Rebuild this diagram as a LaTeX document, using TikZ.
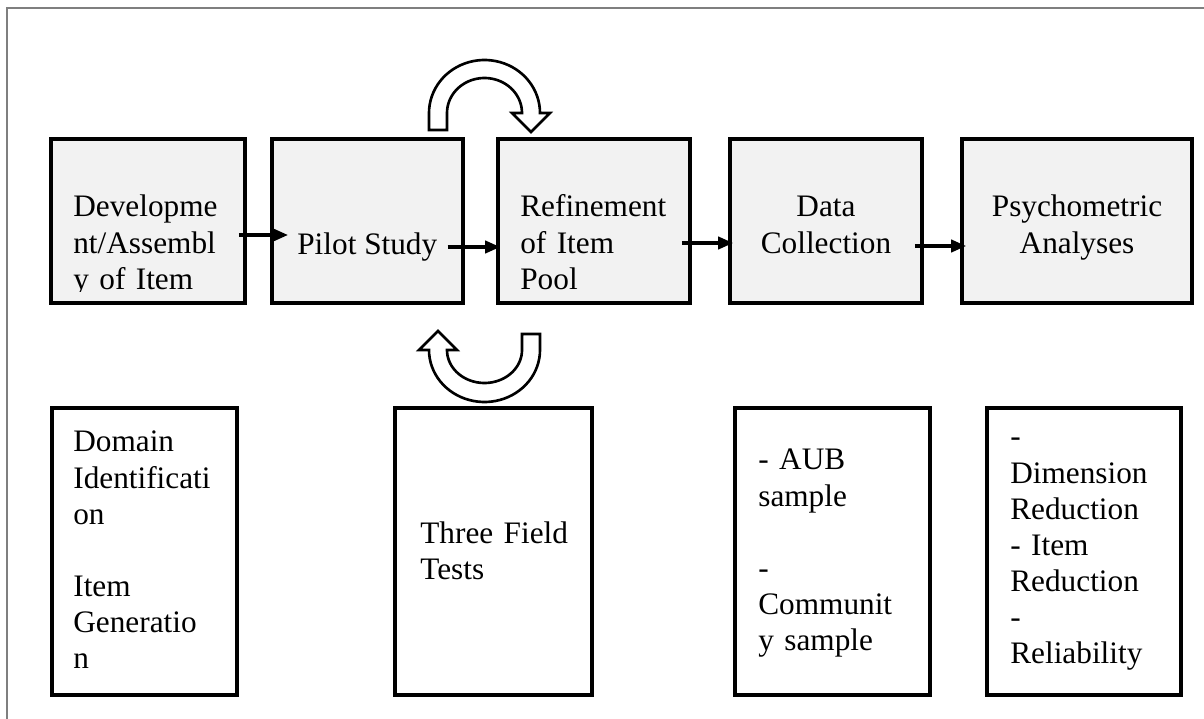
\documentclass[tikz,border=0pt]{standalone}
\usepackage{fontspec}
\setmainfont{Liberation Serif}
\usepackage{xcolor}
\definecolor{boxfill}{HTML}{F2F2F2}
\definecolor{boxborder}{HTML}{000000}
\definecolor{framegray}{HTML}{7F7F7F}
\usepackage{tikz}
\usetikzlibrary{arrows.meta}
\tikzset{
    stage/.style={
        rectangle,
        draw=boxborder,
        fill=boxfill,
        minimum height=3.28cm,
        line width=2.2pt,
        inner sep=0pt,
    },
    detail/.style={
        rectangle,
        draw=boxborder,
        fill=white,
        minimum height=5.74cm,
        line width=2.2pt,
        inner sep=0pt,
    },
    boxtext/.style={
        font=\fontsize{17.8}{20.5}\selectfont,
        inner sep=0pt,
        anchor=base west,
    },
    flow/.style={
        -{Triangle[length=8.5pt,width=7pt]},
        line width=1.8pt,
        boxborder,
    },
    looparrow/.style={
        draw=boxborder,
        fill=white,
        line width=1.5pt,
        line join=miter,
    },
}
\begin{document}
\begin{tikzpicture}[x=0.02cm, y=-0.02cm]
    \useasboundingbox (0,0) rectangle (1204,719);
    \draw[framegray, line width=1.1pt] (7,719) -- (7,8) -- (1204,8);

    \node[stage, minimum width=3.88cm] (develop) at (148,221) {};
    \node[stage, minimum width=3.82cm] (pilot) at (367.5,221) {};
    \node[stage, minimum width=3.84cm] (refine) at (594,221) {};
    \node[stage, minimum width=3.84cm] (collect) at (826,221) {};
    \node[stage, minimum width=4.6cm] (analyse) at (1077,221) {};

    \node[detail, minimum width=3.7cm] (domain) at (144.5,551.5) {};
    \node[detail, minimum width=3.94cm] (fieldtest) at (493.5,551.5) {};
    \node[detail, minimum width=3.9cm] (sample) at (832.5,551.5) {};
    \node[detail, minimum width=3.88cm] (reduction) at (1084,551.5) {};

    \begin{scope}
        \clip (develop.north west) rectangle ([shift={(0,-13)}]develop.south east);
        \node[boxtext, text width=3.6cm, align=left] (developtext) at (73,217) {Developme\\nt/Assembl\\y of Item};
    \end{scope}
    \node[boxtext] (pilottext) at (297,255) {Pilot Study};
    \node[boxtext, text width=3.6cm, align=left] (refinetext) at (520,217) {Refinement\\of Item\\Pool};
    \node[boxtext, text width=3.6cm, align=center, anchor=base] (collecttext) at (826,217) {Data\\Collection};
    \node[boxtext, text width=4.2cm, align=center, anchor=base] (analysetext) at (1077,217) {Psychometric\\Analyses};

    \node[boxtext, text width=3.5cm, align=left] (domaintext) at (73,452) {Domain\\Identificati\\on\\\mbox{}\\Item\\Generatio\\n};
    \node[boxtext, text width=3.6cm, align=left] (fieldtext) at (420,543) {Three Field\\Tests};
    \node[boxtext, text width=3.6cm, align=left] (sampletext) at (758,470) {- AUB\\sample\\\mbox{}\\-\\Communit\\y sample};
    \node[boxtext, text width=3.6cm, align=left] (reductiontext) at (1010,447) {-\\Dimension\\Reduction\\- Item\\Reduction\\-\\Reliability};

    \draw[flow] ([shift={(-8,14)}]develop.east) -- ([shift={(-9,-20)}]pilottext.base west);
    \draw[flow] ([shift={(10,-8)}]pilottext.base east) -- ([shift={(4,26)}]refine.west);
    \draw[flow] ([shift={(-10,22)}]refine.east) -- ([shift={(5,22)}]collect.west);
    \draw[flow] ([shift={(-9,25)}]collect.east) -- ([shift={(6,25)}]analyse.west);

    \draw[looparrow] (429,130) -- (429,113)
        -- plot[domain=180:360, samples=40] ({484.5+55.5*cos(\x)}, {113+53*sin(\x)})
        -- (550,113) -- (531,132) -- (512,113) -- (522,113)
        -- plot[domain=360:180, samples=40] ({484.5+37.5*cos(\x)}, {113+35*sin(\x)})
        -- (447,130) -- cycle;
    \draw[looparrow] (540,334) -- (540,350)
        -- plot[domain=0:180, samples=40] ({484.5+55.5*cos(\x)}, {350+52*sin(\x)})
        -- (419,350) -- (438,331) -- (457,350) -- (447,350)
        -- plot[domain=180:0, samples=40] ({484.5+37.5*cos(\x)}, {350+33*sin(\x)})
        -- (522,334) -- cycle;
\end{tikzpicture}
\end{document}
